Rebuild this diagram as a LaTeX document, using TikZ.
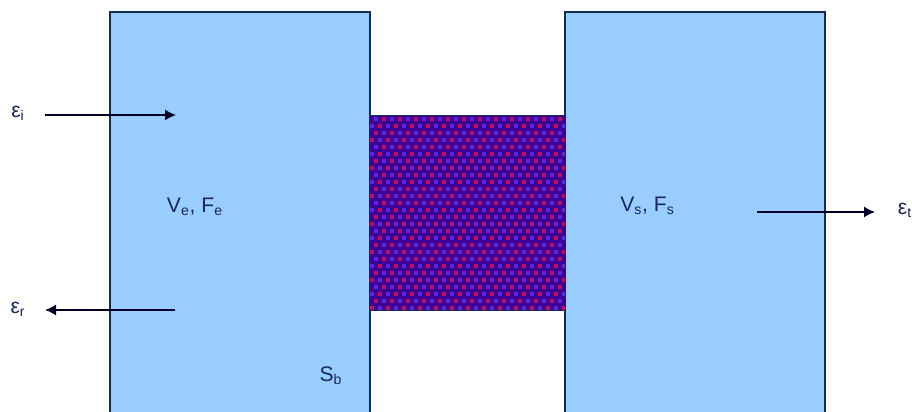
\documentclass[tikz,border=0pt]{standalone}
\usepackage{fontspec}
\setmainfont{Liberation Sans}
\usetikzlibrary{arrows.meta}
\definecolor{caja}{RGB}{153,204,255}
\definecolor{borde}{RGB}{20,45,75}
\definecolor{fondo}{RGB}{60,0,150}
\definecolor{tinta}{RGB}{25,40,90}
\definecolor{puntoa}{RGB}{190,15,95}
\definecolor{puntob}{RGB}{90,40,215}
\begin{document}
\begin{tikzpicture}[>={Latex[length=2.2mm,width=2.2mm]}, font=\fontsize{12}{14}\selectfont, text=tinta,
  medio/.style={draw=borde, line width=0.6pt, fill=caja, minimum width=5.2cm, minimum height=8.1cm, inner sep=0pt},
  flecha/.style={->, line width=0.8pt, black!85!blue}]
  \useasboundingbox (0,0) rectangle (18.24,8.24);
  \fill[white] (0,0) rectangle (18.24,8.24);

  \node[medio] (entrada) at (4.8,3.95) {};
  \node[medio] (salida) at (13.9,3.95) {};

  % muestra central
  \node[fill=fondo, minimum width=3.9cm, minimum height=3.88cm, inner sep=0pt] (muestra) at (9.35,3.98) {};
  \begin{scope}
    \clip (muestra.south west) rectangle (muestra.north east);
    \foreach \j in {0,...,28} {
      \foreach \i in {0,...,25} {
        \pgfmathsetmacro{\xp}{7.4+\i*0.16+mod(\j,2)*0.08}
        \pgfmathsetmacro{\yp}{2.04+\j*0.14}
        \pgfmathtruncatemacro{\tono}{mod(\i+int(\j/2),2)}
        \ifnum\tono=0
          \fill[puntoa] (\xp,\yp) rectangle ++(0.07,0.07);
        \else
          \fill[puntob] (\xp,\yp) rectangle ++(0.07,0.07);
        \fi
      }
    }
  \end{scope}
  \draw[borde, line width=0.6pt] (muestra.south west) rectangle (muestra.north east);

  \node (Ve) at (3.9,4.1) {V$_{\mathrm{e}}$, F$_{\mathrm{e}}$};
  \node (Vs) at (12.95,4.12) {V$_{\mathrm{s}}$, F$_{\mathrm{s}}$};
  \node (Sb) at (6.62,0.72) {S$_{\mathrm{b}}$};

  \node (ei) at (0.36,5.98) {ε$_{\mathrm{i}}$};
  \node (er) at (0.36,2.06) {ε$_{\mathrm{r}}$};
  \node (et) at (18.1,4.04) {ε$_{\mathrm{t}}$};

  \coordinate (ia) at (0.9,5.94);
  \coordinate (ib) at (3.52,5.94);
  \coordinate (ra) at (3.5,2.04);
  \coordinate (rb) at (0.9,2.04);
  \coordinate (ta) at (15.14,4);
  \coordinate (tb) at (17.5,4);
  \draw[flecha] (ia) -- (ib);
  \draw[flecha] (ra) -- (rb);
  \draw[flecha] (ta) -- (tb);
\end{tikzpicture}
\end{document}
